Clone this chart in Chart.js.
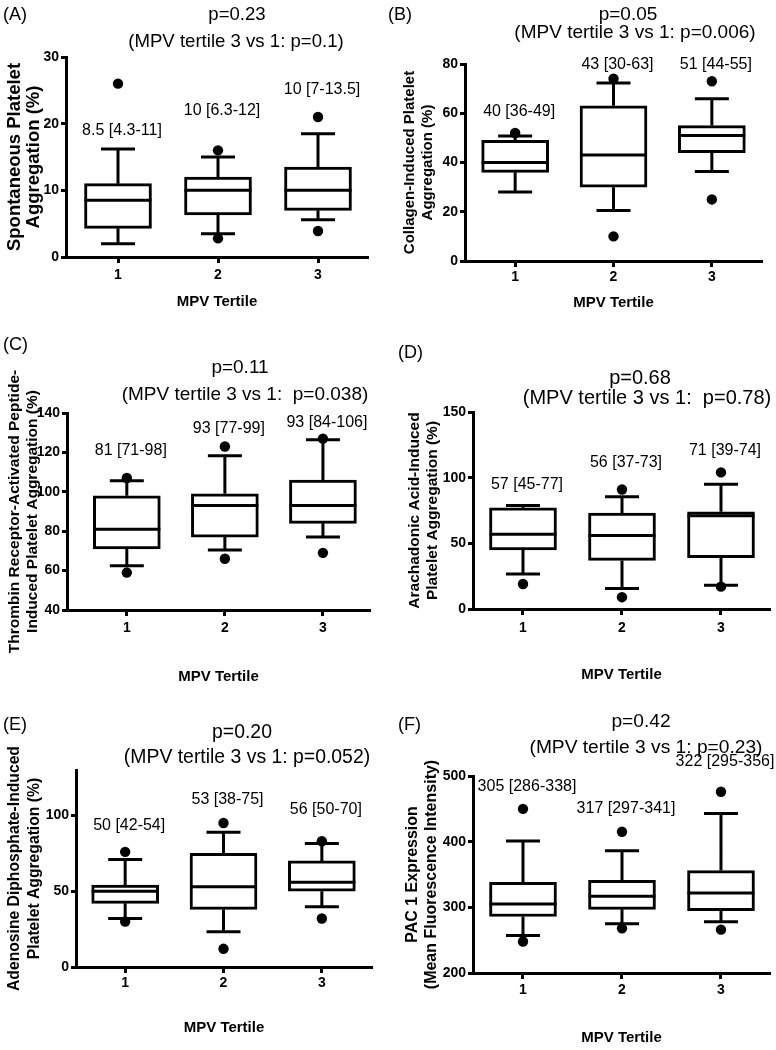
<!DOCTYPE html>
<html>
<head>
<meta charset="utf-8">
<script src="https://cdn.jsdelivr.net/npm/chart.js@4.4.0/dist/chart.umd.min.js"></script>
<style>
  body { margin: 0; background: #fff; }
  #wrap { position: relative; width: 776px; height: 1050px; }
  #wrap canvas { position: absolute; left: 0; top: 0; }
</style>
</head>
<body>
<div id="wrap"></div>
<script>
// categories
var tertiles = [1, 2, 3];

// panel texts
var letters = ['(A)', '(B)', '(C)', '(D)', '(E)', '(F)'];
var pOverall = ['p=0.23', 'p=0.05', 'p=0.11', 'p=0.68', 'p=0.20', 'p=0.42'];
var p3vs1 = ['(MPV tertile 3 vs 1: p=0.1)', '(MPV tertile 3 vs 1: p=0.006)', '(MPV tertile 3 vs 1:  p=0.038)',
             '(MPV tertile 3 vs 1:  p=0.78)', '(MPV tertile 3 vs 1: p=0.052)', '(MPV tertile 3 vs 1: p=0.23)'];
var yTitles = [
  ['Spontaneous Platelet', 'Aggregation (%)'],
  ['Collagen-Induced Platelet', 'Aggregation (%)'],
  ['Thrombin Receptor-Activated Peptide-', 'Induced Platelet Aggregation (%)'],
  ['Arachadonic Acid-Induced', 'Platelet Aggregation (%)'],
  ['Adenosine Diphosphate-Induced', 'Platelet Aggregation (%)'],
  ['PAC 1 Expression', '(Mean Fluorescence Intensity)']
];
var xTitle = 'MPV Tertile';

// y axes
var yMin = [0, 0, 40, 0, 0, 200];
var yMax = [30, 80, 140, 150, 130, 500];
var yStep = [10, 20, 20, 50, 50, 100];

// box plot values per panel, one entry per tertile
var medians = [[8.5, 10, 10], [40, 43, 51], [81, 93, 93], [57, 56, 71], [50, 53, 56], [305, 317, 322]];
var q1s     = [[4.3, 6.3, 7], [36, 30, 44], [71, 77, 84], [45, 37, 39], [42, 38, 50], [286, 297, 295]];
var q3s     = [[11, 12, 13.5], [49, 63, 55], [98, 99, 106], [77, 73, 74], [54, 75, 70], [338, 341, 356]];
var whiskLo = [[2, 3.5, 5.6], [28, 20.5, 36.3], [62.4, 70.5, 77], [26.6, 15.7, 18], [32, 23.2, 39.7], [257, 275, 278]];
var whiskHi = [[16.2, 15, 18.5], [50.8, 72.3, 65.9], [105.6, 118.3, 126.4], [78.9, 85.5, 94.9], [71, 89, 81.5], [401, 386, 443]];
var outHi   = [[26, 16, 21], [52, 74, 73], [107, 123, 127], [null, 91, 104], [76, 95, 83], [450, 415, 476]];
var outLo   = [[null, 2.8, 3.9], [null, 10, 25], [59, 66, 69], [19, 9, 17], [30, 12, 32], [248, 268, 266]];
// height (in axis units) of the "median [IQR]" annotations
var labelAt = [[18.9, 22, 25.1], [60.7, 79.7, 79.7], [121, 131.9, 135.3], [94.4, 111.3, 120.9], [93.2, 110.4, 104.2], [483.7, 450.6, 521.8]];

// layout of each panel on the page
var layouts = [
  { plot: [66, 57, 368, 257],   cellLeft: 0,   yTitleSize: 18.5, yTitleLh: 19, yTitlePad: 5.5, titleSize: 18.6,
    xTickY: 275, xTitleY: 302,  xRange: [0.48, 3.5],   letter: [3, 15],   t1: [237, 15],  t2: [236, 42] },
  { plot: [465, 64, 762, 261],  cellLeft: 388, yTitleSize: 15,   yTitleLh: 18, yTitlePad: 13,  titleSize: 19,
    xTickY: 277, xTitleY: 303,  xRange: [0.49, 3.51],  letter: [388, 15], t1: [628, 15],  t2: [635, 33] },
  { plot: [67, 413, 370, 610],  cellLeft: 0,   yTitleSize: 15.5, yTitleLh: 18, yTitlePad: 6,   titleSize: 19,
    xTickY: 628, xTitleY: 677,  xRange: [0.39, 3.48],  letter: [3, 345],  t1: [240, 368], t2: [245, 395] },
  { plot: [473, 412, 770, 609], cellLeft: 388, yTitleSize: 15.5, yTitleLh: 18, yTitlePad: 18,  titleSize: 20,
    xTickY: 628, xTitleY: 675,  xRange: [0.495, 3.495], letter: [398, 353], t1: [640, 378], t2: [647, 398] },
  { plot: [76, 770, 372, 967],  cellLeft: 0,   yTitleSize: 15.7, yTitleLh: 20, yTitlePad: 5,   titleSize: 19.4,
    xTickY: 983, xTitleY: 1028, xRange: [0.50, 3.51],  letter: [3, 725],  t1: [242, 733], t2: [247, 758] },
  { plot: [473, 776, 770, 973], cellLeft: 388, yTitleSize: 16,   yTitleLh: 19, yTitlePad: 15.5, titleSize: 19.2,
    xTickY: 990, xTitleY: 1038, xRange: [0.495, 3.495], letter: [398, 725], t1: [641, 722], t2: [646, 748] }
];

var FONT = '"Liberation Sans", Arial, Helvetica, sans-serif';
Chart.defaults.font.family = FONT;
Chart.defaults.color = '#000';

var textPlugin = {
  id: 'panelText',
  afterDatasetsDraw: function(chart, args, opts) {
    var i = opts.idx, L = layouts[i], ctx = chart.ctx;
    var xs = chart.scales.x, ys = chart.scales.y;
    ctx.save();
    ctx.fillStyle = '#000';
    ctx.textBaseline = 'middle';
    ctx.font = '18px ' + FONT;
    ctx.textAlign = 'left';
    ctx.fillText(letters[i], L.letter[0], L.letter[1]);
    ctx.textAlign = 'center';
    ctx.font = L.titleSize + 'px ' + FONT;
    ctx.fillText(pOverall[i], L.t1[0], L.t1[1]);
    ctx.fillText(p3vs1[i], L.t2[0], L.t2[1]);
    // median [IQR] notes, a little right of each box centre
    ctx.font = '16px ' + FONT;
    for (var k = 0; k < tertiles.length; k++) {
      var txt = medians[i][k] + ' [' + q1s[i][k] + '-' + q3s[i][k] + ']';
      ctx.fillText(txt, xs.getPixelForValue(tertiles[k]) + 4, ys.getPixelForValue(labelAt[i][k]));
    }
    ctx.restore();
  }
};

function makePanel(i) {
  var L = layouts[i];
  var canvas = document.createElement('canvas');
  canvas.width = 776;
  canvas.height = 1050;
  document.getElementById('wrap').appendChild(canvas);

  var boxes = [], whiskers = [], caps = [], meds = [], dots = [];
  tertiles.forEach(function(t, k) {
    boxes.push({ x: t, y: [q1s[i][k], q3s[i][k]] });
    whiskers.push({ x: t, y: q3s[i][k] }, { x: t, y: whiskHi[i][k] }, { x: t, y: null },
                  { x: t, y: q1s[i][k] }, { x: t, y: whiskLo[i][k] }, { x: t, y: null });
    caps.push({ x: t, y: whiskHi[i][k] }, { x: t, y: whiskLo[i][k] });
    meds.push({ x: t, y: medians[i][k] });
    if (outHi[i][k] !== null) dots.push({ x: t, y: outHi[i][k] });
    if (outLo[i][k] !== null) dots.push({ x: t, y: outLo[i][k] });
  });

  var yW = L.plot[0] - L.cellLeft;
  var xH = L.xTitleY - L.plot[3] + 9;
  var tickPad = Math.max(0, L.xTickY - L.plot[3] - 6 - 8.4);

  new Chart(canvas, {
    type: 'scatter',
    data: {
      datasets: [
        { type: 'scatter', data: dots, order: 0, pointStyle: 'circle', pointRadius: 5.2,
          backgroundColor: '#000', borderWidth: 0, clip: false },
        { type: 'scatter', data: meds, order: 1, pointStyle: 'line', pointRadius: 33.5,
          borderColor: '#000', borderWidth: 3 },
        { type: 'scatter', data: caps, order: 2, pointStyle: 'line', pointRadius: 17,
          borderColor: '#000', borderWidth: 3 },
        { type: 'line', data: whiskers, order: 3, borderColor: '#000', borderWidth: 3,
          pointRadius: 0, spanGaps: false, fill: false },
        { type: 'bar', data: boxes, order: 4, backgroundColor: '#fff', borderColor: '#000',
          borderWidth: 3, borderSkipped: false, barThickness: 67 }
      ]
    },
    options: {
      responsive: false,
      animation: false,
      events: [],
      layout: {
        autoPadding: false,
        padding: { left: L.cellLeft, top: L.plot[1], right: 776 - L.plot[2], bottom: 1050 - L.plot[3] - xH }
      },
      plugins: {
        legend: { display: false },
        tooltip: { enabled: false },
        panelText: { idx: i }
      },
      scales: {
        x: {
          type: 'linear', position: 'bottom', min: L.xRange[0], max: L.xRange[1], offset: false,
          afterBuildTicks: function(s) { s.ticks = tertiles.map(function(v) { return { value: v }; }); },
          afterFit: function(s) { s.height = xH; },
          ticks: { autoSkip: false, maxRotation: 0, padding: tickPad, color: '#000',
                   font: { size: 14, weight: 'bold' } },
          grid: { offset: false, drawOnChartArea: false, drawTicks: true, tickLength: 6, tickWidth: 3, color: '#000' },
          border: { display: true, width: 3, color: '#000' },
          title: { display: true, text: xTitle, color: '#000', padding: { top: 0, bottom: 0 },
                   font: { size: 15, weight: 'bold', lineHeight: 1.2 } }
        },
        y: {
          type: 'linear', position: 'left', min: yMin[i], max: yMax[i],
          afterFit: function(s) { s.width = yW; },
          ticks: { stepSize: yStep[i], includeBounds: false, padding: 2, color: '#000',
                   font: { size: 14, weight: 'bold' } },
          grid: { drawOnChartArea: false, drawTicks: true, tickLength: 5, tickWidth: 3, color: '#000' },
          border: { display: true, width: 3, color: '#000' },
          title: { display: true, text: yTitles[i], color: '#000', padding: { top: L.yTitlePad, bottom: 0 },
                   font: { size: L.yTitleSize, weight: 'bold', lineHeight: L.yTitleLh + 'px' } }
        }
      }
    },
    plugins: [textPlugin]
  });
}

for (var i = 0; i < layouts.length; i++) makePanel(i);
</script>
</body>
</html>
